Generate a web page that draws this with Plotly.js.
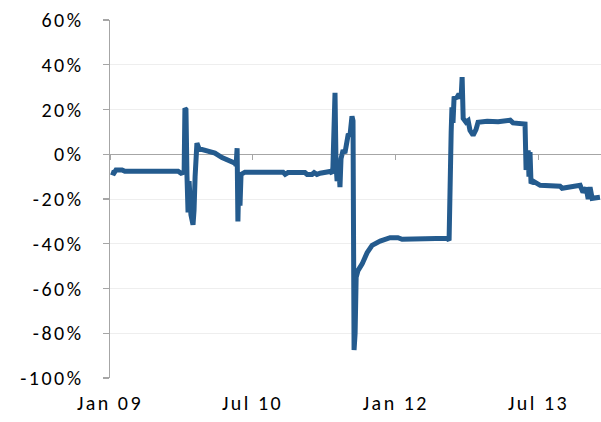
<!DOCTYPE html>
<html>
<head>
<meta charset="utf-8">
<script src="https://cdn.plot.ly/plotly-3.0.1.min.js"></script>
<style>
html,body{margin:0;padding:0;background:#fff;}
#chart{width:601px;height:422px;}
.js-plotly-plot .xtick text, .js-plotly-plot .ytick text{letter-spacing:2.5px;}
</style>
</head>
<body>
<div id="chart"></div>
<script>
const dates = [
'2009-01-05','2009-01-16','2009-01-24','2009-02-16','2009-02-27','2009-09-19','2009-09-30','2009-10-12',
'2009-10-15','2009-10-19','2009-10-23','2009-10-27','2009-10-31','2009-11-04','2009-11-07','2009-11-15',
'2009-11-19','2009-11-23','2009-11-27','2009-11-30','2009-12-08','2009-12-23','2010-01-11','2010-02-07',
'2010-03-06','2010-04-06','2010-04-25','2010-04-29','2010-05-03','2010-05-06','2010-05-10','2010-05-14',
'2010-05-18','2010-06-02','2010-07-30','2010-10-26','2010-11-03','2010-11-14','2011-01-18','2011-01-26',
'2011-02-14','2011-02-22','2011-03-05','2011-03-17','2011-04-24','2011-05-02','2011-05-05','2011-05-13',
'2011-05-17','2011-05-21','2011-05-28','2011-06-01','2011-06-05','2011-06-13','2011-06-20','2011-06-24',
'2011-07-02','2011-07-10','2011-07-13','2011-07-17','2011-07-21','2011-07-25','2011-07-29','2011-08-02',
'2011-08-09','2011-08-25','2011-09-01','2011-09-13','2011-10-02','2011-10-17','2011-11-02','2011-12-10',
'2012-01-09','2012-01-25','2012-04-03','2012-04-22','2012-07-15','2012-07-23','2012-07-27','2012-07-31',
'2012-08-03','2012-08-07','2012-08-11','2012-08-23','2012-08-30','2012-09-07','2012-09-11','2012-09-15',
'2012-09-26','2012-10-04','2012-10-11','2012-10-23','2012-11-03','2012-11-11','2012-12-16','2013-01-27',
'2013-03-14','2013-03-25','2013-05-10','2013-05-14','2013-05-18','2013-05-22','2013-05-25','2013-05-29',
'2013-06-02','2013-06-10','2013-07-07','2013-09-02','2013-09-21','2013-09-29','2013-11-18','2013-12-07',
'2013-12-18','2013-12-30','2014-01-07','2014-01-14','2014-01-22','2014-02-21'
];
const values = [
-8,-8.5,-7,-7,-7.6,-7.6,-8.5,-8,
20.5,20,-10,-26,-12,-25,-27,-31.5,
-25,-10,3,5,2.5,2,1.5,0.5,
-1.5,-2.8,-4,-5,2.7,-30,-8,-23,
-9,-8,-7.9,-8,-9,-8.2,-8.2,-9,
-9,-8.2,-9,-8.5,-7.7,-8.5,-5.8,27.5,
-5,-12,-6,-14.7,-2,1.8,0.5,3,
8.5,9,15,17,15,-87.5,-80,-55,
-52,-49,-47,-44,-40.7,-39.5,-38.8,-37.3,
-37.3,-38,-38,-37.5,-37.5,-38.5,3,10,
21,14,25,25.5,27,25,34.5,16,
14.3,15,10.7,8.5,11,14.3,14.7,14.5,
15.2,14,13.5,-7,-2,1.8,-10,1,
-13,-12,-13.9,-14,-14.3,-15.2,-14.3,-13.9,
-17,-15,-20,-14.7,-19.7,-19.2
];
const tickDates = ['2009-01-01','2010-07-01','2012-01-01','2013-07-01'];
const tickLabels = ['Jan 09','Jul 10','Jan 12','Jul 13'];
const yTicks = [-100,-80,-60,-40,-20,0,20,40,60];
const xRange = ['2009-01-01','2014-02-25'];

const lineColor = '#245B8E';
const gray = '#a6a6a6';
const fontFam = 'Carlito, Lato, "Liberation Sans", sans-serif';

const traces = [
  {x: dates, y: values.map(v => v / 100), type: 'scatter', mode: 'lines',
   line: {color: lineColor, width: 5}, hoverinfo: 'skip', showlegend: false,
   xaxis: 'x', yaxis: 'y'},
  {x: dates, y: values.map(v => v / 100), type: 'scatter', mode: 'lines',
   line: {color: lineColor, width: 0}, opacity: 0, hoverinfo: 'skip', showlegend: false,
   xaxis: 'x2', yaxis: 'y'}
];

const layout = {
  width: 601, height: 422,
  margin: {l: 110, r: 0, t: 20, b: 44},
  paper_bgcolor: '#fff', plot_bgcolor: '#fff',
  font: {family: fontFam, size: 20, color: '#000'},
  showlegend: false,
  xaxis: {
    type: 'date', range: xRange,
    tickvals: tickDates, ticktext: tickLabels,
    showgrid: false, zeroline: false, showline: false,
    ticks: '', ticklabelstandoff: 11,
    tickfont: {family: fontFam, size: 20, color: '#000'}
  },
  xaxis2: {
    type: 'date', range: xRange, overlaying: 'x', matches: 'x',
    anchor: 'free', position: 0.625, side: 'bottom',
    tickvals: tickDates, showticklabels: false,
    ticks: 'outside', ticklen: 5, tickwidth: 1.2, tickcolor: gray,
    showgrid: false, zeroline: false, showline: false
  },
  yaxis: {
    range: [-1, 0.6], tickvals: yTicks.map(v => v / 100),
    ticktext: yTicks.map(v => v + '%'),
    showgrid: true, gridcolor: '#eeeeee', gridwidth: 1,
    zeroline: true, zerolinecolor: gray, zerolinewidth: 1.5,
    showline: true, linecolor: gray, linewidth: 1.5,
    ticks: 'outside', ticklen: 6, tickcolor: gray, tickwidth: 1.2,
    ticklabelstandoff: 15,
    tickfont: {family: fontFam, size: 20, color: '#000'}
  }
};

Plotly.newPlot('chart', traces, layout, {displayModeBar: false, staticPlot: true});
</script>
</body>
</html>
